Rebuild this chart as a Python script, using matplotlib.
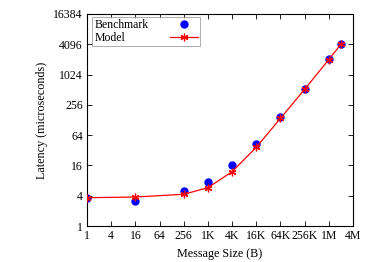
import matplotlib
matplotlib.use("Agg")
import matplotlib.pyplot as plt
import numpy as np

plt.rcParams['font.family'] = ['Liberation Serif', 'DejaVu Serif']

sizes = [1, 16, 256, 1024, 4096, 16384, 65536, 262144, 1048576, 2097152]
benchmark = [3.65, 3.2, 4.97, 7.6, 16.3, 42.7, 145, 537, 2060, 4096]
model = [3.65, 3.77, 4.27, 5.78, 12.0, 36.7, 138, 522, 2040, 4096]

xticks = [2**i for i in range(0, 23, 2)]
xticklabels = ['1', '4', '16', '64', '256', '1K', '4K', '16K', '64K', '256K', '1M', '4M']
yticks = [2**i for i in range(0, 15, 2)]
yticklabels = ['1', '4', '16', '64', '256', '1024', '4096', '16384']

fig = plt.figure(figsize=(3.74, 2.62), dpi=100)
ax = fig.add_axes([0.2326, 0.1374, 0.7113, 0.8092])

ax.plot(sizes, benchmark, linestyle='none', marker='o', color='#0000ff',
        markersize=5, label='Benchmark', zorder=3)
ax.plot(sizes, model, color='#ff0000', linewidth=0.9, marker=(6, 2, 0),
        markersize=5.5, markeredgewidth=0.9, label='Model', zorder=4)

ax.set_xscale('log', base=2)
ax.set_yscale('log', base=2)
ax.set_xlim(1, 2**22)
ax.set_ylim(1, 2**14)
ax.set_xticks(xticks)
ax.set_xticklabels(xticklabels)
ax.set_yticks(yticks)
ax.set_yticklabels(yticklabels)
ax.minorticks_off()
ax.tick_params(direction='in', top=True, right=True, labelsize=8.5, length=3.5,
               width=0.6, pad=3)
for s in ax.spines.values():
    s.set_linewidth(0.8)

ax.set_xlabel('Message Size (B)', fontsize=8.7)
ax.set_ylabel('Latency (microseconds)', fontsize=8.7)

fs = 8.5
leg = ax.legend(loc='upper left', bbox_to_anchor=(5 / 266, 1 - 3 / 212),
                markerfirst=False, fontsize=fs,
                frameon=True, fancybox=False, edgecolor='#888888',
                borderpad=0.2, labelspacing=0.05, handlelength=2.4,
                handletextpad=1.8, borderaxespad=0.0)
leg.get_frame().set_linewidth(0.6)

# left-align the label texts while keeping the handles aligned on the right
renderer = fig.canvas.get_renderer()
pt_per_px = 72.0 / fig.dpi
for col in leg._legend_handle_box.get_children():
    items = col.get_children()
    widths = [it.get_children()[0]._text.get_window_extent(renderer).width * pt_per_px
              for it in items]
    wmax = max(widths)
    for it, w in zip(items, widths):
        it.sep = it.sep + (wmax - w)

fig.savefig('out.png', dpi=100)
